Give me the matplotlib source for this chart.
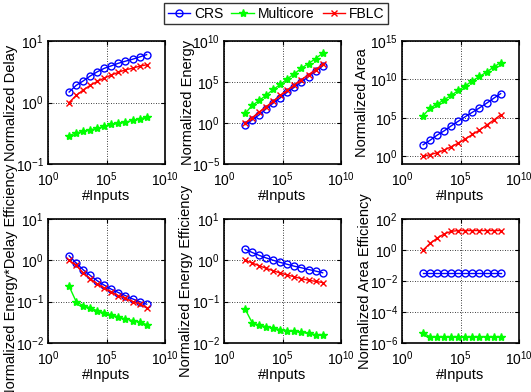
import numpy as np
import matplotlib
matplotlib.use("Agg")
import matplotlib.pyplot as plt
from matplotlib.ticker import NullLocator

plt.rcParams['font.family'] = ['Liberation Sans', 'DejaVu Sans']
plt.rcParams['mathtext.fontset'] = 'custom'
plt.rcParams['mathtext.rm'] = 'Liberation Sans'
plt.rcParams['mathtext.it'] = 'Liberation Sans:italic'
plt.rcParams['axes.unicode_minus'] = False

# Number of inputs: 2^6 ... 2^28
inputs = [2.0 ** k for k in range(6, 29, 2)]

series_names = ["CRS", "Multicore", "FBLC"]

delay_crs = [1.48, 1.9, 2.24, 2.7, 3.16, 3.6, 3.95, 4.35, 4.7, 5.05, 5.5, 6.0]
delay_multicore = [0.29, 0.32, 0.34, 0.36, 0.38, 0.41, 0.44, 0.46, 0.48, 0.51, 0.54, 0.58]
delay_fblc = [1.0, 1.3, 1.6, 1.9, 2.2, 2.5, 2.8, 3.1, 3.4, 3.6, 3.9, 4.1]

energy_crs = [10 ** v for v in [-0.2, 0.36, 1.0, 1.74, 2.43, 3.08, 3.77, 4.37, 5.0, 5.67, 6.3, 6.96]]
energy_multicore = [10 ** v for v in [1.17, 2.15, 2.75, 3.4, 4.1, 4.7, 5.4, 6.0, 6.7, 7.25, 7.85, 8.5]]
energy_fblc = [10 ** v for v in [0.0, 0.65, 1.34, 2.0, 2.67, 3.36, 4.0, 4.66, 5.3, 5.9, 6.5, 7.17]]

area_crs = [10 ** v for v in [1.5, 2.1, 2.76, 3.32, 3.97, 4.57, 5.17, 5.73, 6.3, 6.9, 7.54, 8.15]]
area_multicore = [10 ** v for v in [5.26, 6.3, 6.8, 7.37, 7.93, 8.58, 9.18, 9.83, 10.39, 10.95, 11.6, 12.2]]
area_fblc = [10 ** v for v in [0.0, 0.22, 0.47, 0.82, 1.25, 1.72, 2.28, 2.84, 3.4, 4.05, 4.7, 5.39]]

ed_eff_crs = [1.29, 0.86, 0.59, 0.43, 0.32, 0.25, 0.20, 0.166, 0.14, 0.117, 0.10, 0.087]
ed_eff_multicore = [0.235, 0.1, 0.08, 0.071, 0.06, 0.054, 0.048, 0.043, 0.038, 0.035, 0.032, 0.028]
ed_eff_fblc = [1.0, 0.75, 0.5, 0.36, 0.27, 0.21, 0.17, 0.14, 0.12, 0.10, 0.088, 0.072]

e_eff_crs = [1.85, 1.55, 1.32, 1.14, 1.0, 0.89, 0.80, 0.72, 0.66, 0.60, 0.55, 0.50]
e_eff_multicore = [0.066, 0.031, 0.027, 0.025, 0.023, 0.021, 0.020, 0.019, 0.018, 0.017, 0.016, 0.0155]
e_eff_fblc = [1.0, 0.86, 0.74, 0.64, 0.56, 0.49, 0.44, 0.40, 0.36, 0.33, 0.31, 0.29]

a_eff_crs = [0.035] * 12
a_eff_multicore = [4.3e-6] + [2.5e-6] * 11
a_eff_fblc = [1.0, 2.7, 5.8, 11.0, 16.0, 18.0, 18.0, 18.0, 18.0, 18.0, 18.0, 18.0]

panels = [
    ("Normalized Delay", (delay_crs, delay_multicore, delay_fblc), (1e-1, 1e1), [1e-1, 1e0, 1e1]),
    ("Normalized Energy", (energy_crs, energy_multicore, energy_fblc), (1e-5, 1e10), [1e-5, 1e0, 1e5, 1e10]),
    ("Normalized Area", (area_crs, area_multicore, area_fblc), (1e-1, 1e15), [1e0, 1e5, 1e10, 1e15]),
    ("Normalized Energy*Delay Efficiency", (ed_eff_crs, ed_eff_multicore, ed_eff_fblc), (1e-2, 1e1), [1e-2, 1e-1, 1e0, 1e1]),
    ("Normalized Energy Efficiency", (e_eff_crs, e_eff_multicore, e_eff_fblc), (1e-2, 1e1), [1e-2, 1e-1, 1e0, 1e1]),
    ("Normalized Area Efficiency", (a_eff_crs, a_eff_multicore, a_eff_fblc), (1e-6, 1e2), [1e-6, 1e-4, 1e-2, 1e0, 1e2]),
]

# y-label anchor (right edge of the rotated text) in axes fraction
ylabel_x = [-0.26, -0.25, -0.28, -0.26, -0.265, -0.26]

styles = [
    dict(color=(0, 0, 1), marker='o', markerfacecolor='none', markersize=5, markeredgewidth=1.0),
    dict(color=(0, 1, 0), marker='*', markersize=6, markeredgewidth=1.0),
    dict(color=(1, 0, 0), marker='x', markersize=4.5, markeredgewidth=1.0),
]

fig = plt.figure(figsize=(5.31, 3.92), dpi=100)
lefts = [48 / 531, 224 / 531, 402 / 531]
width = 117 / 531
rows = [(1 - 164 / 392, 123 / 392), (1 - 343 / 392, 124 / 392)]

handles = []
for i, (ylabel, data, ylim, yticks) in enumerate(panels):
    r, c = divmod(i, 3)
    ax = fig.add_axes([lefts[c], rows[r][0], width, rows[r][1]])
    for name, vals, st in zip(series_names, data, styles):
        h, = ax.plot(inputs, vals, linewidth=1.0, label=name, **st)
        if i == 0:
            handles.append(h)
    ax.set_xscale('log')
    ax.set_yscale('log')
    ax.set_xlim(1e0, 1e10)
    ax.set_ylim(*ylim)
    ax.set_xticks([1e0, 1e5, 1e10])
    ax.set_yticks(yticks)
    ax.xaxis.set_minor_locator(NullLocator())
    ax.yaxis.set_minor_locator(NullLocator())
    ax.grid(True, which='major', color='black', linestyle=(0, (1, 2)), linewidth=0.6)
    ax.tick_params(direction='in', length=3, labelsize=10, width=0.8, top=True, right=True)
    ax.tick_params(axis='x', pad=4.5)
    ax.tick_params(axis='y', pad=3)
    for sp in ax.spines.values():
        sp.set_linewidth(1.2)
    ax.set_xlabel("#Inputs", fontsize=10.5, labelpad=0)
    ax.set_ylabel(ylabel, fontsize=10.5)
    ax.yaxis.set_label_coords(ylabel_x[i], 0.5)

fig.legend(handles=handles, labels=series_names, loc='center', bbox_to_anchor=(0.52, 0.965),
           ncol=3, frameon=True, fancybox=False, edgecolor='black', fontsize=10,
           handlelength=1.6, handletextpad=0.3, columnspacing=0.6, borderpad=0.25,
           borderaxespad=0)
fig.legends[0].get_frame().set_linewidth(1.0)

fig.savefig("out.png", dpi=100)
